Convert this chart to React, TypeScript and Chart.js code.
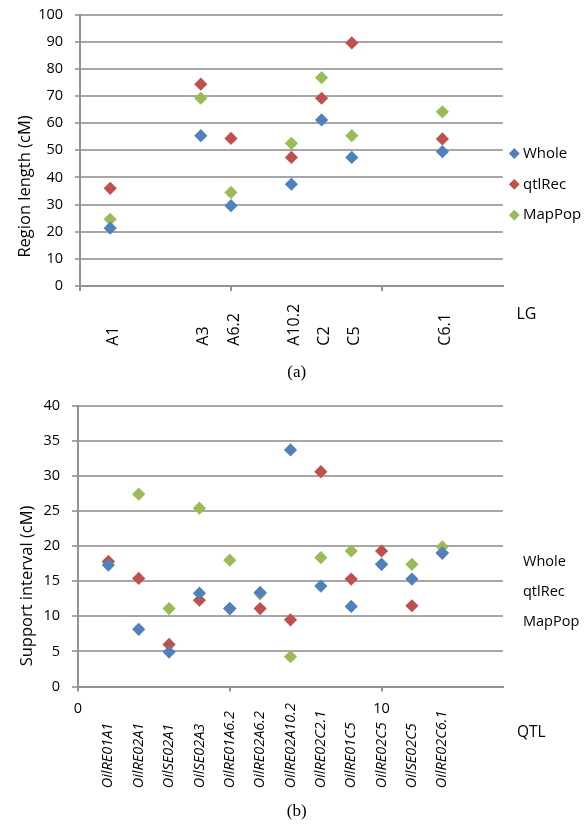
import React, { useEffect, useRef } from "react";
import { Chart, registerables } from "chart.js";

Chart.register(...registerables);

// ---------- data: (a) region length per linkage group ----------
const lgPositions = [1, 4, 5, 7, 8, 9, 12];
const lgLabels = ["A1", "A3", "A6.2", "A10.2", "C2", "C5", "C6.1"];
const lgWhole = [21.3, 55.4, 29.6, 37.5, 61.2, 47.4, 49.5];
const lgQtlRec = [36.0, 74.4, 54.4, 47.4, 69.2, 89.6, 54.2];
const lgMapPop = [24.6, 69.2, 34.5, 52.6, 76.8, 55.4, 64.2];
const lgYTicks = [0, 10, 20, 30, 40, 50, 60, 70, 80, 90, 100];
const lgXTicks = [0, 5, 10];

// ---------- data: (b) support interval per QTL ----------
const qtlPositions = [1, 2, 3, 4, 5, 6, 7, 8, 9, 10, 11, 12];
const qtlLabels = [
  "OilRE01A1", "OilRE02A1", "OilSE02A1", "OilSE02A3", "OilRE01A6.2", "OilRE02A6.2",
  "OilRE02A10.2", "OilRE02C2.1", "OilRE01C5", "OilRE02C5", "OilSE02C5", "OilRE02C6.1",
];
const qtlWhole = [17.3, 8.15, 4.9, 13.3, 11.1, 13.4, 33.7, 14.3, 11.4, 17.4, 15.3, 19.0];
const qtlQtlRec = [17.8, 15.4, 6.0, 12.3, 11.1, 11.1, 9.5, 30.6, 15.3, 19.3, 11.5, 19.0];
const qtlMapPop = [17.8, 27.4, 11.1, 25.4, 18.0, 13.2, 4.25, 18.35, 19.3, 17.4, 17.4, 19.9];
const qtlYTicks = [0, 5, 10, 15, 20, 25, 30, 35, 40];
const qtlXTicks = [0, 5, 10];
const qtlXTickLabels: Record<number, string> = { 0: "0", 5: "", 10: "10" };

const seriesNames = ["Whole", "qtlRec", "MapPop"];
const seriesColors = ["#4F81BD", "#C0504D", "#9BBB59"];

const FONT = '"Open Sans", "Noto Sans", sans-serif';
const SERIF = '"Liberation Serif", "Times New Roman", serif';
const GRID = "#a6a6a6";
const AXIS = "#929292";

function pts(xs: number[], ys: number[]) {
  return xs.map((x, i) => ({ x, y: ys[i] }));
}

type Decor = {
  yTitle: string; yTitleSize: number; yTitleX: number; yTitleY: number;
  xTitle: string; xTitleSize: number; xTitleX: number; xTitleY: number;
  catPositions: number[]; catLabels: string[]; catSize: number; catItalic: boolean;
  catDx: number; catBottom: number;
  legendMarkers: boolean; legendMarkerX: number; legendMarkerR: number;
  legendX: number; legendY: number; legendStep: number; legendSize: number;
  caption: string; captionX: number; captionY: number;
};

function makeDecorPlugin(o: Decor) {
  return {
    id: "decorDraw",
    afterDraw(chart: any) {
      const { ctx, chartArea, scales } = chart;
      const xs = scales.x;
      ctx.save();
      ctx.fillStyle = "#000";
      // y-axis title
      ctx.save();
      ctx.font = `${o.yTitleSize}px ${FONT}`;
      ctx.translate(o.yTitleX, o.yTitleY);
      ctx.rotate(-Math.PI / 2);
      ctx.textAlign = "center";
      ctx.textBaseline = "middle";
      ctx.fillText(o.yTitle, 0, 0);
      ctx.restore();
      // x-axis title
      ctx.font = `${o.xTitleSize}px ${FONT}`;
      ctx.textAlign = "left";
      ctx.textBaseline = "middle";
      ctx.fillText(o.xTitle, o.xTitleX, o.xTitleY);
      // rotated category labels
      ctx.font = `${o.catItalic ? "italic " : ""}${o.catSize}px ${FONT}`;
      o.catPositions.forEach((p, i) => {
        const px = xs.getPixelForValue(p) + o.catDx;
        ctx.save();
        ctx.translate(px, chartArea.bottom + o.catBottom);
        ctx.rotate(-Math.PI / 2);
        ctx.textAlign = "left";
        ctx.textBaseline = "middle";
        ctx.fillText(o.catLabels[i], 0, 0);
        ctx.restore();
      });
      // legend
      ctx.font = `${o.legendSize}px ${FONT}`;
      chart.data.datasets.forEach((ds: any, i: number) => {
        const y = o.legendY + i * o.legendStep;
        if (o.legendMarkers) {
          const r = o.legendMarkerR;
          const mx = o.legendMarkerX;
          ctx.beginPath();
          ctx.moveTo(mx - r, y);
          ctx.lineTo(mx, y - r);
          ctx.lineTo(mx + r, y);
          ctx.lineTo(mx, y + r);
          ctx.closePath();
          ctx.fillStyle = ds.backgroundColor;
          ctx.fill();
        }
        ctx.fillStyle = "#000";
        ctx.textAlign = "left";
        ctx.textBaseline = "middle";
        ctx.fillText(ds.label, o.legendX, y);
      });
      // caption
      ctx.font = `17px ${SERIF}`;
      ctx.textAlign = "center";
      ctx.textBaseline = "middle";
      ctx.fillText(o.caption, o.captionX, o.captionY);
      ctx.restore();
    },
  };
}

function makeDatasets(xs: number[], series: number[][]) {
  return series.map((ys, i) => ({
    label: seriesNames[i],
    data: pts(xs, ys),
    backgroundColor: seriesColors[i],
    borderColor: seriesColors[i],
    borderWidth: 0,
    pointStyle: "rectRot",
    pointRadius: 6.6,
    pointHoverRadius: 6.6,
  }));
}

type Frame = {
  H: number; left: number; right: number; top: number; bottom: number;
  yMax: number; yTicks: number[]; xTicks: number[]; yTickLen: number;
  xLabels: Record<number, string> | null;
};

function buildConfig(f: Frame, datasets: any[], decor: Decor) {
  return {
    type: "scatter",
    data: { datasets },
    plugins: [makeDecorPlugin(decor)],
    options: {
      animation: false,
      responsive: false,
      devicePixelRatio: 1,
      events: [],
      layout: { padding: { left: 0, top: f.top, right: 586 - f.right, bottom: 0 } },
      plugins: { legend: { display: false }, tooltip: { enabled: false } },
      scales: {
        x: {
          type: "linear",
          min: 0,
          max: 14,
          afterBuildTicks: (s: any) => { s.ticks = f.xTicks.map((v) => ({ value: v })); },
          afterFit: (s: any) => { s.height = f.H - f.bottom; s.paddingLeft = 0; s.paddingRight = 0; },
          ticks: f.xLabels
            ? {
                display: true, padding: 9, maxRotation: 0, minRotation: 0, color: "#000",
                font: { family: FONT, size: 14.5 },
                callback: (v: any) => (f.xLabels as any)[v] ?? "",
              }
            : { display: false },
          grid: { display: true, drawOnChartArea: false, drawTicks: true, tickLength: 5, color: AXIS, lineWidth: 2 },
          border: { display: true, color: AXIS, width: 2 },
        },
        y: {
          type: "linear",
          min: 0,
          max: f.yMax,
          afterBuildTicks: (s: any) => { s.ticks = f.yTicks.map((v) => ({ value: v })); },
          afterFit: (s: any) => { s.width = f.left; s.paddingTop = 0; s.paddingBottom = 0; },
          ticks: { padding: 12, color: "#000", font: { family: FONT, size: 14.5 } },
          grid: { color: GRID, lineWidth: 2, tickLength: f.yTickLen },
          border: { display: true, color: AXIS, width: 2 },
        },
      },
    },
  };
}

function ChartA() {
  const ref = useRef<HTMLCanvasElement>(null);
  useEffect(() => {
    const cfg = buildConfig(
      { H: 395, left: 80, right: 502.8, top: 14.7, bottom: 286, yMax: 100, yTicks: lgYTicks, xTicks: lgXTicks, yTickLen: 5, xLabels: null },
      makeDatasets(lgPositions, [lgWhole, lgQtlRec, lgMapPop]),
      {
        yTitle: "Region length (cM)", yTitleSize: 16.5, yTitleX: 25, yTitleY: 186.5,
        xTitle: "LG", xTitleSize: 16, xTitleX: 516.5, xTitleY: 314,
        catPositions: lgPositions, catLabels: lgLabels, catSize: 16, catItalic: false,
        catDx: 3, catBottom: 59.7,
        legendMarkers: true, legendMarkerX: 514.3, legendMarkerR: 5.4,
        legendX: 523, legendY: 153.5, legendStep: 30.8, legendSize: 15,
        caption: "(a)", captionX: 296.7, captionY: 372.7,
      }
    );
    const ctx = ref.current!.getContext("2d", { willReadFrequently: true } as any)!;
    const chart = new Chart(ctx, cfg as any);
    return () => chart.destroy();
  }, []);
  return <canvas ref={ref} width={586} height={395} style={{ display: "block", width: 586, height: 395 }} />;
}

function ChartB() {
  const ref = useRef<HTMLCanvasElement>(null);
  useEffect(() => {
    const cfg = buildConfig(
      { H: 430, left: 78, right: 503, top: 10.7, bottom: 291.5, yMax: 40, yTicks: qtlYTicks, xTicks: qtlXTicks, yTickLen: 6, xLabels: qtlXTickLabels },
      makeDatasets(qtlPositions, [qtlWhole, qtlQtlRec, qtlMapPop]),
      {
        yTitle: "Support interval (cM)", yTitleSize: 16.5, yTitleX: 27, yTitleY: 191,
        xTitle: "QTL", xTitleSize: 15.5, xTitleX: 517, xTitleY: 337.5,
        catPositions: qtlPositions, catLabels: qtlLabels, catSize: 14.5, catItalic: true,
        catDx: 0, catBottom: 101.8,
        legendMarkers: false, legendMarkerX: 0, legendMarkerR: 0,
        legendX: 523, legendY: 166.7, legendStep: 30.2, legendSize: 14.5,
        caption: "(b)", captionX: 296.7, captionY: 416.7,
      }
    );
    const ctx = ref.current!.getContext("2d", { willReadFrequently: true } as any)!;
    const chart = new Chart(ctx, cfg as any);
    return () => chart.destroy();
  }, []);
  return <canvas ref={ref} width={586} height={430} style={{ display: "block", width: 586, height: 430 }} />;
}

export default function App() {
  return (
    <div style={{ position: "absolute", left: 0, top: 0, width: 586, height: 825, background: "#fff" }}>
      <ChartA />
      <ChartB />
    </div>
  );
}
